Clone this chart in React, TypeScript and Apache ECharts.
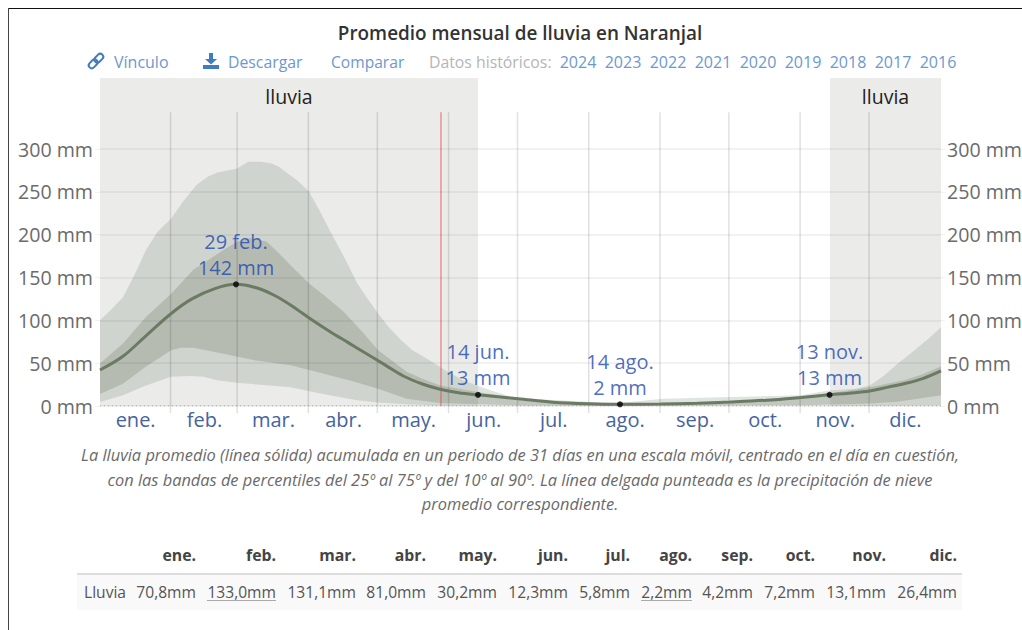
import React, { useEffect, useRef } from "react";
import * as echarts from "echarts";

const FONT = "'Open Sans', sans-serif";

const titleText = "Promedio mensual de lluvia en Naranjal";
const yearLinks = ["2024", "2023", "2022", "2021", "2020", "2019", "2018", "2017", "2016"];
const monthNames = ["ene.", "feb.", "mar.", "abr.", "may.", "jun.", "jul.", "ago.", "sep.", "oct.", "nov.", "dic."];
const monthStarts = [31, 60, 91, 121, 152, 182, 213, 244, 274, 305, 335];
const monthMiddles = [15.5, 45.5, 75.5, 106, 136.5, 167, 197.5, 228.5, 259, 289.5, 320, 350.5];
const yTicks = [0, 50, 100, 150, 200, 250, 300];
const tableValues = ["70,8mm", "133,0mm", "131,1mm", "81,0mm", "30,2mm", "12,3mm", "5,8mm", "2,2mm", "4,2mm", "7,2mm", "13,1mm", "26,4mm"];
const captionLines = [
  "La lluvia promedio (línea sólida) acumulada en un periodo de 31 días en una escala móvil, centrado en el día en cuestión,",
  "con las bandas de percentiles del 25º al 75º y del 10º al 90º. La línea delgada punteada es la precipitación de nieve",
  "promedio correspondiente.",
];

const meanLine = [[0, 42], [10, 58], [20, 82], [31, 108], [40, 125], [50, 137], [59, 142], [68, 138], [76, 129], [84, 116], [92, 101], [100, 87], [108, 74], [116, 61], [124, 48], [132, 35], [140, 26], [148, 19.5], [156, 15.5], [164.5, 13], [182, 8.5], [197, 4.5], [212, 2.6], [226, 2], [244, 2.4], [260, 3.3], [274, 4.7], [290, 6.8], [305, 10], [317, 13], [326, 15], [335, 17.5], [343, 22], [350, 26], [358, 32], [366, 41]];
const p90Line = [[0, 100], [5, 113], [10, 127], [15, 153], [20, 182], [25, 203], [31, 219], [36, 238], [42, 258], [47, 268], [51.5, 273], [59.5, 277], [62, 281], [64.6, 285], [70, 285], [74.7, 283], [78, 279], [81, 273], [86, 263], [91, 250], [96, 226], [100, 205], [106, 175], [112, 143], [116, 127], [121, 108], [126, 91], [131, 77], [136, 65], [143.6, 53], [150, 42], [158, 30], [165, 23], [172.7, 16], [182, 8], [197, 5], [226, 3.5], [245, 8.5], [274, 10.5], [305, 12.5], [317, 18], [329, 20], [335, 24], [341, 35], [347, 49], [353, 62], [358, 73], [362, 82], [366, 92]];
const p75Line = [[0, 49.5], [10, 73], [20, 104], [31, 131], [40.6, 159], [53.7, 182], [60, 192], [65, 196], [72.5, 192], [78, 178], [83, 164], [91, 143], [98, 128], [106, 110], [114, 87], [121, 65], [127, 53], [133.5, 40], [140, 32], [148, 24], [165, 16], [182, 9], [226, 3], [244, 3.5], [274, 5.5], [305, 11], [317, 14.5], [335, 22], [350, 30], [358, 37], [366, 46]];
const p25Line = [[0, 14], [10, 26], [20, 46], [31, 65], [35, 68], [40.6, 68], [53.7, 61], [68, 53], [83, 47.5], [97, 38], [110, 29], [121, 20], [133.5, 8.6], [148, 3.5], [165, 2], [182, 1], [226, 0.3], [305, 1], [335, 3], [347, 5], [366, 12.5]];
const p10Line = [[0, 4.7], [10, 12.5], [20, 24], [31, 34], [39, 35], [45, 34], [51, 30], [59.5, 27], [74, 24], [83, 22], [97, 14], [112, 6.6], [121, 4], [133.5, 2], [148, 0.5], [182, 0.1], [335, 0.2], [366, 1]];
const snowLine = [[0, 0], [366, 0]];
const rainySeasons = [[0, 164.5], [317.7, 366]];
const todayDay = 148.4;
const peaks = [
  { day: 59.2, value: 142, date: "29 feb.", amount: "142 mm" },
  { day: 164.5, value: 13, date: "14 jun.", amount: "13 mm" },
  { day: 226.3, value: 2, date: "14 ago.", amount: "2 mm" },
  { day: 317.5, value: 13, date: "13 nov.", amount: "13 mm" },
];

const tableRight = [196, 276, 356, 426, 497, 568, 630, 692, 753, 815, 886, 957];
const yearCenters = [578, 623, 668, 713, 758, 803, 848, 893, 938];

function band(upper: number[][], lower: number[][], color: string) {
  return {
    type: "custom",
    silent: true,
    z: 3,
    data: [0],
    encode: { x: [], y: [] },
    renderItem: (_p: any, api: any) => ({
      type: "polygon",
      shape: {
        points: [...upper, ...[...lower].reverse()].map((pt) => api.coord(pt)),
      },
      style: { fill: color },
    }),
  };
}

function txt(text: string, x: number, y: number, fontSize: number, fill: string, extra: any = {}) {
  return {
    type: "text",
    x,
    y,
    silent: true,
    style: {
      text,
      fontSize,
      fill,
      fontFamily: FONT,
      textAlign: "left",
      textVerticalAlign: "middle",
      ...extra,
    },
  };
}

export default function App() {
  const ref = useRef<HTMLDivElement>(null);
  useEffect(() => {
    document.body.style.margin = "0";
    echarts.graphic.registerShape(
      "downloadIcon",
      echarts.graphic.extendPath("M9 0h6v9h6l-9 8-9-8h6z M0 18h24v6H0z", {}) as any
    );
    const chart = echarts.init(ref.current!, undefined, { renderer: "svg" });
    const linkBlue = "#6c98cf";
    const iconBlue = "#3f7cc0";
    const axisStyle = { color: "#6b6b6b", fontSize: 19.6, fontFamily: FONT, padding: [0, 0, 2, 0] };
    const yAxisBase = {
      type: "value",
      min: 0,
      max: 382.9,
      axisLine: { show: false },
      splitLine: { show: false },
      axisTick: { show: false },
    };
    chart.setOption({
      animation: false,
      backgroundColor: "#fff",
      grid: { left: 100, right: 81, top: 78, bottom: 224, containLabel: false, outerBoundsMode: "none" },
      xAxis: {
        type: "value",
        min: 0,
        max: 366,
        axisLine: { show: false },
        splitLine: { show: false },
        axisTick: { show: false },
        axisLabel: {
          customValues: monthMiddles,
          formatter: (v: number) => monthNames[monthMiddles.indexOf(v)] ?? "",
          color: "#45639f",
          fontSize: 20,
          fontFamily: FONT,
          margin: 3,
          verticalAlign: "top",
          hideOverlap: false,
          showMinLabel: true,
          showMaxLabel: true,
        },
      },
      yAxis: [
        {
          ...yAxisBase,
          position: "left",
          z: 5,
          axisLabel: {
            ...axisStyle,
            customValues: yTicks,
            margin: 7,
            formatter: (v: number) => `${v} mm`,
          },
          axisTick: { show: true, length: 5, customValues: yTicks, lineStyle: { color: "rgba(0,0,0,0.05)" } },
          splitLine: { show: true, lineStyle: { color: "rgba(0,0,0,0.05)", width: 2 } },
        },
        {
          ...yAxisBase,
          position: "right",
          axisLabel: {
            ...axisStyle,
            customValues: yTicks,
            margin: 6,
            formatter: (v: number) => `${v} mm`,
          },
          axisTick: { show: true, length: 4, customValues: yTicks, lineStyle: { color: "rgba(0,0,0,0.05)" } },
        },
      ],
      title: {
        text: titleText,
        left: 520,
        top: 23,
        padding: 0,
        textAlign: "center",
        textStyle: { fontFamily: FONT, fontSize: 18.9, fontWeight: 600, color: "#333" },
      },
      series: [
        {
          type: "line",
          name: "snow",
          silent: true,
          showSymbol: false,
          z: 6,
          data: snowLine,
          lineStyle: { color: "#999", width: 1, type: [1, 3] },
          markArea: {
            silent: true,
            z: 1,
            itemStyle: { color: "#ebebe9" },
            label: {
              show: true,
              position: "insideTop",
              distance: 8,
              color: "#222",
              fontSize: 19.5,
              fontFamily: FONT,
            },
            data: rainySeasons.map((s) => [
              { name: "lluvia", coord: [s[0], 382.9] },
              { coord: [s[1], 0] },
            ]),
          },
        },
        band(p90Line, p10Line, "rgba(100,120,100,0.2)"),
        band(p75Line, p25Line, "rgba(100,110,90,0.25)"),
        {
          type: "custom",
          silent: true,
          clip: false,
          z: 4,
          data: monthStarts.map((d) => [d]),
          encode: { x: 0 },
          renderItem: (_p: any, api: any) => {
            const d = api.value(0);
            const top = api.coord([d, 343]);
            const bottom = api.coord([d, 0]);
            const x = top[0] - 0.7;
            return {
              type: "line",
              shape: { x1: x, y1: top[1], x2: x, y2: bottom[1] + 7 },
              style: { stroke: "rgba(0,0,0,0.12)", lineWidth: 1.5 },
            };
          },
        },
        {
          type: "custom",
          silent: true,
          z: 4,
          data: [[todayDay]],
          encode: { x: 0 },
          renderItem: (_p: any, api: any) => {
            const d = api.value(0);
            const top = api.coord([d, 343]);
            const bottom = api.coord([d, 0]);
            return {
              type: "line",
              shape: { x1: top[0], y1: top[1], x2: top[0], y2: bottom[1] },
              style: { stroke: "rgba(230,70,70,0.8)", lineWidth: 1 },
            };
          },
        },
        {
          type: "line",
          name: "mean",
          silent: true,
          showSymbol: false,
          smooth: 0.35,
          z: 7,
          data: meanLine,
          lineStyle: { color: "#6b7a63", width: 3 },
        },
        {
          type: "scatter",
          silent: true,
          z: 8,
          symbolSize: 6,
          itemStyle: { color: "#000" },
          data: peaks.map((p) => ({ value: [p.day, p.value], date: p.date, amount: p.amount })),
          label: {
            show: true,
            position: "top",
            distance: 1,
            formatter: (p: any) => `${p.data.date}\n${p.data.amount}`,
            color: "#1c48b0",
            fontSize: 20,
            lineHeight: 26,
            fontFamily: FONT,
          },
        },
      ],
      graphic: [
        { type: "line", silent: true, shape: { x1: 8, y1: 8.5, x2: 1022, y2: 8.5 }, style: { stroke: "#111", lineWidth: 1 } },
        { type: "line", silent: true, shape: { x1: 8.5, y1: 8, x2: 8.5, y2: 630 }, style: { stroke: "#444", lineWidth: 1 } },
        {
          type: "group",
          x: 96,
          y: 61,
          rotation: Math.PI / 4,
          silent: true,
          children: [
            { type: "rect", shape: { x: -9, y: -3, width: 10, height: 6, r: 3 }, style: { fill: "none", stroke: iconBlue, lineWidth: 2 } },
            { type: "rect", shape: { x: -1, y: -3, width: 10, height: 6, r: 3 }, style: { fill: "none", stroke: iconBlue, lineWidth: 2 } },
          ],
        },
        { type: "downloadIcon", x: 203, y: 53, scaleX: 0.67, scaleY: 0.67, silent: true, style: { fill: iconBlue } },
        txt("Vínculo", 114, 62, 16, linkBlue),
        txt("Descargar", 228, 62, 15.8, linkBlue),
        txt("Comparar", 331, 62, 15.6, linkBlue),
        txt("Datos históricos:", 429, 62, 15.8, "#b5b5b5"),
        ...yearLinks.map((y, i) => txt(y, yearCenters[i], 62, 16, linkBlue, { textAlign: "center" })),
        ...captionLines.map((l, i) =>
          txt(l, 520, [454, 479, 503][i], 16.4, "#6a6a6a", { textAlign: "center", fontStyle: "italic" })
        ),
        { type: "rect", silent: true, shape: { x: 77, y: 574, width: 885, height: 36 }, style: { fill: "#f9f9f9" } },
        { type: "rect", silent: true, shape: { x: 77, y: 573, width: 885, height: 2 }, style: { fill: "#dddddd" } },
        ...monthNames.map((m, i) =>
          txt(m, tableRight[i], 555, 15.8, "#444", { textAlign: "right", fontWeight: 700 })
        ),
        txt("Lluvia", 84, 592, 15.6, "#555"),
        ...tableValues.map((v, i) => txt(v, tableRight[i], 592, 15.6, "#555", { textAlign: "right" })),
        { type: "rect", silent: true, shape: { x: 207, y: 600, width: 69, height: 1 }, style: { fill: "#aaa" } },
        { type: "rect", silent: true, shape: { x: 641, y: 600, width: 51, height: 1 }, style: { fill: "#aaa" } },
      ],
    });
    return () => chart.dispose();
  }, []);
  return <div ref={ref} style={{ width: 1022, height: 630 }} />;
}
